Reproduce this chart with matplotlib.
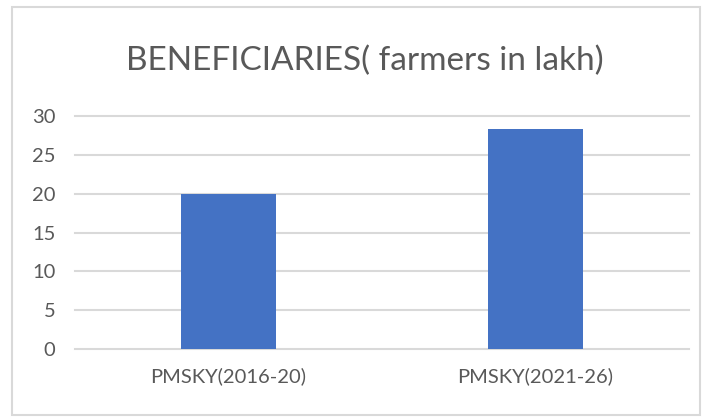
import matplotlib.pyplot as plt
from matplotlib.patches import Rectangle

# --- Data ---
categories = ['PMSKY(2016-20)', 'PMSKY(2021-26)']
beneficiaries = [20, 28.3]
yticks = [0, 5, 10, 15, 20, 25, 30]

plt.rcParams['font.family'] = ['Lato', 'DejaVu Sans']

fig = plt.figure(figsize=(7.06, 4.18), dpi=100)
ax = fig.add_axes([0.106, 0.165, 0.87, 0.557])

ax.bar(range(len(categories)), beneficiaries, width=0.31, color='#4472C4', zorder=3)
ax.set_xlim(-0.5, 1.5)
ax.set_ylim(0, 30)
ax.set_yticks(yticks)
ax.set_xticks(range(len(categories)))
ax.set_xticklabels(categories)
ax.tick_params(axis='both', length=0, labelsize=14.5, colors='#595959')
ax.tick_params(axis='x', pad=13)
ax.tick_params(axis='y', pad=14)
for y in yticks:
    ax.axhline(y, color='#d9d9d9', lw=1.5, zorder=1, clip_on=False)
for s in ax.spines.values():
    s.set_visible(False)

fig.text(0.517, 0.855, 'BENEFICIARIES( farmers in lakh)', ha='center', va='center',
         fontsize=24, color='#595959')

# chart border
fig.patches.append(Rectangle((12 / 706, 3 / 418), 688 / 706, 408 / 418, transform=fig.transFigure,
                             fill=False, edgecolor='#d9d9d9', lw=1.5))

plt.savefig('out.png')
